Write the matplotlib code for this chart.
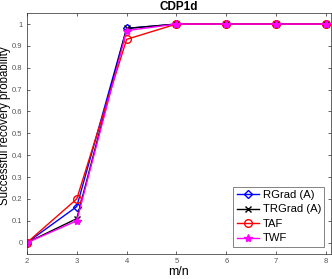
import matplotlib
matplotlib.use("Agg")
import matplotlib.pyplot as plt

plt.rcParams['font.family'] = ['Liberation Sans', 'DejaVu Sans']

x = [2, 3, 4, 5, 6, 7, 8]
rgrad = [0.0, 0.165, 0.98, 1.0, 1.0, 1.0, 1.0]
trgrad = [0.0, 0.11, 0.98, 1.0, 1.0, 1.0, 1.0]
taf = [0.0, 0.20, 0.93, 1.0, 1.0, 1.0, 1.0]
twf = [0.0, 0.10, 0.97, 1.0, 1.0, 1.0, 1.0]
labels = ['RGrad (A)', 'TRGrad (A)', 'TAF', 'TWF']
xticks = [2, 3, 4, 5, 6, 7, 8]
yticks = [0, 0.1, 0.2, 0.3, 0.4, 0.5, 0.6, 0.7, 0.8, 0.9, 1]
yticklabels = ['0', '0.1', '0.2', '0.3', '0.4', '0.5', '0.6', '0.7', '0.8', '0.9', '1']

fig = plt.figure(figsize=(3.32, 2.79), dpi=100)
ax = fig.add_axes([0.081, 0.091, 0.916, 0.862])

ax.plot(x, rgrad, color='blue', marker='D', markersize=4.5, markerfacecolor='none', lw=1.0, label=labels[0])
ax.plot(x, trgrad, color='black', marker='x', markersize=4.5, lw=1.0, label=labels[1])
ax.plot(x, taf, color='red', marker='o', markersize=5.5, markerfacecolor='none', lw=1.0, label=labels[2])
ax.plot(x, twf, color='magenta', marker='*', markersize=6, lw=1.0, label=labels[3])

ax.set_xlim(2, 8.1)
ax.set_ylim(-0.05, 1.05)
ax.set_xticks(xticks)
ax.set_yticks(yticks)
ax.set_yticklabels(yticklabels)
ax.tick_params(direction='in', top=True, right=True, labelsize=5.5, length=2.5, width=0.5,
               colors='#262626', labelcolor='#555555', pad=3)
for s in ax.spines.values():
    s.set_color('#262626')
    s.set_linewidth(0.5)

ax.set_title('CDP1d', fontsize=8.5, fontweight='bold', pad=2)
ax.set_xlabel('m/n', fontsize=9, labelpad=1)
ax.set_ylabel('Successful recovery probability', fontsize=8.3)
ax.yaxis.set_label_coords(-0.052, 0.53)

leg = ax.legend(loc='lower right', fontsize=8.1, frameon=True, fancybox=False,
                edgecolor='#262626', borderpad=0.3, labelspacing=0.4, handlelength=2.0,
                handletextpad=0.3, borderaxespad=0.6)
leg.get_frame().set_linewidth(0.5)

fig.savefig('out.png', dpi=100)
